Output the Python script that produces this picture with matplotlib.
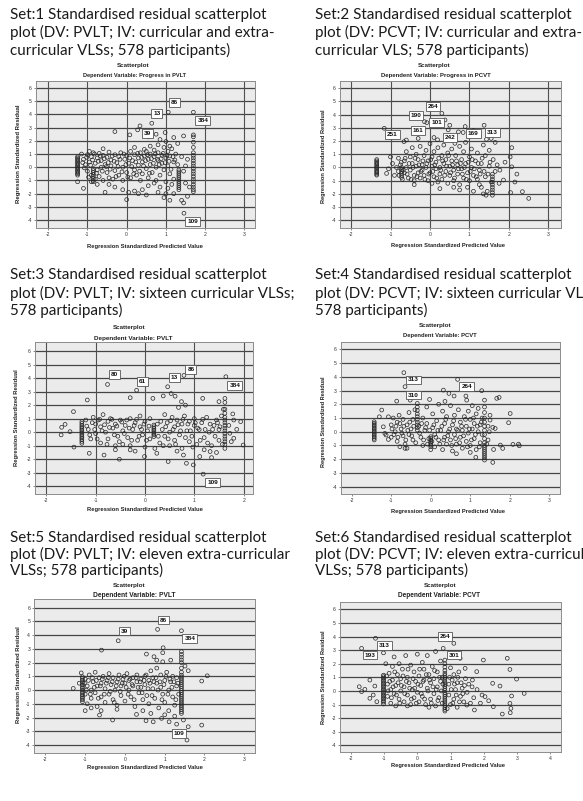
import matplotlib
matplotlib.use("Agg")
import matplotlib.pyplot as plt

# ---------------- data ----------------
set1_title = ["Set:1 Standardised residual scatterplot",
              "plot (DV: PVLT; IV: curricular and extra-",
              "curricular VLSs; 578 participants)"]
set2_title = ["Set:2 Standardised residual scatterplot",
              "plot (DV: PCVT; IV: curricular and extra-",
              "curricular VLS; 578 participants)"]
set3_title = ["Set:3 Standardised residual scatterplot",
              "plot (DV: PVLT; IV: sixteen curricular VLSs;",
              "578 participants)"]
set4_title = ["Set:4 Standardised residual scatterplot",
              "plot (DV: PCVT; IV: sixteen curricular VLSs;",
              "578 participants)"]
set5_title = ["Set:5 Standardised residual scatterplot",
              "plot (DV: PVLT; IV: eleven extra-curricular",
              "VLSs; 578 participants)"]
set6_title = ["Set:6 Standardised residual scatterplot",
              "plot (DV: PCVT; IV: eleven extra-curricular",
              "VLSs; 578 participants)"]

dv_labels = ["Dependent Variable: Progress in PVLT",
             "Dependent Variable: Progress in PCVT",
             "Dependent Variable: PVLT",
             "Dependent Variable: PCVT",
             "Dependent Variable: PVLT",
             "Dependent Variable: PCVT"]

y_ticks = [-4, -3, -2, -1, 0, 1, 2, 3, 4, 5, 6]
set1_xticks = [-2, -1, 0, 1, 2, 3]
set2_xticks = [-2, -1, 0, 1, 2, 3]
set3_xticks = [-2, -1, 0, 1, 2]
set4_xticks = [-2, -1, 0, 1, 2, 3]
set5_xticks = [-2, -1, 0, 1, 2, 3]
set6_xticks = [-2, -1, 0, 1, 2, 3, 4]

# ---- Set 1 ----
set1_cloud = [(-1.15,1.0),(-1.1,0.6),(-1.05,0.2),(-1.0,-0.3),(-1.0,0.95),(-0.95,1.2),(-0.95,0.4),(-0.9,-0.6),
    (-0.9,0.8),(-0.85,1.1),(-0.8,0.3),(-0.8,-0.9),(-0.75,0.7),(-0.75,-0.2),(-0.7,1.05),(-0.7,-0.7),(-0.65,0.5),
    (-0.65,0.0),(-0.6,-1.0),(-0.6,0.9),(-0.55,0.2),(-0.5,-0.4),(-0.5,0.75),(-0.45,1.15),(-0.45,-0.8),(-0.4,0.1),
    (-0.4,0.55),(-0.35,-0.9),(-0.3,0.95),(-0.3,-0.25),(-0.25,0.35),(-0.2,-0.6),(-0.2,0.8),(-0.15,1.1),(-0.1,0.0),
    (-0.1,-1.0),(-0.05,0.6),(0.0,-0.4),(0.0,0.9),(0.05,0.3),(0.1,-0.8),(0.1,1.2),(0.15,0.5),(0.2,-0.2),(0.2,0.95),
    (0.25,-0.6),(0.3,0.7),(0.3,0.15),(0.35,-1.0),(0.35,1.1),(0.4,0.4),(0.4,-0.5),(0.45,0.85),(0.5,-0.1),(0.5,1.2),
    (0.55,0.6),(0.55,-0.8),(0.6,0.2),(0.6,1.0),(0.65,-0.4),(0.7,0.8),(0.7,1.3),(0.75,0.0),(0.75,-1.0),(0.8,0.5),
    (0.8,1.1),(0.85,-0.6),(0.9,0.9),(0.9,0.3),(0.95,1.5),(0.95,-0.2),(1.0,0.7),(1.0,-1.1),(1.05,1.2),(1.05,0.1),
    (1.1,-0.5),(1.1,0.85),(1.15,1.4),(1.2,0.4),(1.2,-0.9),(1.25,1.0),(1.3,0.2),(1.4,0.8),(1.45,-0.3),(1.5,0.1),
    (1.55,0.6),(-1.1,-1.6),(-0.9,-1.1),(-0.75,-1.3),(-0.55,-1.9),(-0.45,-1.3),(-0.3,-1.5),(-0.1,-1.7),(0.0,-2.45),
    (0.05,-1.9),(0.2,-1.8),(0.3,-2.0),(0.4,-1.7),(0.5,-2.1),(0.55,-1.4),(0.7,-1.2),(0.8,-1.9),(0.85,-1.5),
    (0.95,-2.3),(1.0,-2.0),(1.05,-1.6),(1.1,-2.5),(1.15,-1.3),(1.2,-2.0),(1.4,-2.5),(1.45,-2.7),(1.55,-2.2),
    (1.6,-1.5),(1.5,-1.2),(-0.3,2.7),(0.08,2.45),(0.28,2.83),(0.34,3.13),(0.64,3.33),(0.55,2.3),(0.75,2.5),
    (0.85,2.1),(0.98,2.63),(1.0,1.95),(1.2,2.25),(1.45,2.37),(1.06,4.17),(1.7,4.17),(1.46,-3.48),(0.6,1.6),
    (0.8,1.7),(1.1,1.6),(1.3,1.8),(-0.6,1.4),(0.2,1.5),(0.45,1.35)]
set1_band = [(-1.12,0.35),(-1.08,-0.05),(-1.02,0.75),(-0.97,-0.75),(-0.92,0.15),(-0.87,0.55),(-0.82,1.0),
    (-0.77,-0.45),(-0.72,0.45),(-0.67,0.85),(-0.62,-0.3),(-0.57,0.65),(-0.52,0.05),(-0.47,0.35),(-0.42,-0.15),
    (-0.37,0.85),(-0.32,0.45),(-0.27,-0.7),(-0.22,0.05),(-0.17,0.6),(-0.12,-0.35),(-0.07,1.0),(-0.02,0.2),
    (0.03,-0.75),(0.08,0.7),(0.13,0.05),(0.18,-0.5),(0.23,0.4),(0.28,1.05),(0.33,-0.3),(0.38,0.75),(0.43,0.1),
    (0.48,0.5),(0.53,0.95),(0.58,-0.45),(0.63,0.65),(0.68,0.3),(0.73,1.0),(0.78,0.6),(0.83,0.2),(0.88,0.65),
    (0.93,1.05),(0.98,0.35),(1.03,0.9),(1.08,0.45),(1.13,-0.15),(1.18,0.8),(1.23,0.55)]
set1_stack_x = [-1.25, -0.85, 1.33, 1.7]
set1_stack_y = [[0.8,0.7,0.6,0.5,0.4,0.3,0.2,0.1,0.0,-0.1,-0.2,-0.3,-0.4,-0.5,-0.6,-1.1],
                [-0.1,-0.25,-0.4,-0.55,-0.7,-0.85,-1.0,-1.1],
                [-0.2,-0.35,-0.5,-0.65,-0.8,-0.95,-1.1,-1.25,-1.4,-1.55,-1.7],
                [2.45,2.3,1.9,1.5,1.1,0.9,0.7,0.5,0.3,0.1,-0.1,-0.3,-0.5,-0.7,-0.9,-1.1,-1.3,-1.5,-1.7,-1.85]]
set1_case_ids = ["86", "13", "384", "39", "109"]
set1_case_pos = [(1.22,4.92),(0.77,4.1),(1.94,3.54),(0.53,2.58),(1.68,-4.12)]

# ---- Set 2 ----
set2_cloud = [(-0.8,0.7),(-0.8,-0.3),(-0.75,0.2),(-0.7,-0.9),(-0.65,0.5),(-0.65,-0.4),(-0.6,1.2),(-0.6,0.0),
    (-0.55,-0.8),(-0.5,0.8),(-0.5,-0.2),(-0.45,1.5),(-0.45,0.3),(-0.4,-0.6),(-0.4,-1.0),(-0.35,1.0),(-0.35,0.1),
    (-0.3,-0.4),(-0.3,0.6),(-0.25,1.6),(-0.25,-0.8),(-0.2,0.2),(-0.2,-0.2),(-0.15,0.9),(-0.15,-0.6),(-0.1,1.3),
    (-0.1,0.0),(-0.05,-1.0),(-0.05,0.5),(0.0,1.8),(0.0,-0.4),(0.05,0.8),(0.05,0.1),(0.1,-0.7),(0.1,1.2),(0.15,-0.1),
    (0.15,0.4),(0.2,-1.1),(0.2,1.5),(0.25,0.0),(0.25,-0.5),(0.3,0.9),(0.3,-0.9),(0.35,0.3),(0.35,1.7),(0.4,-0.3),
    (0.4,0.6),(0.45,-1.2),(0.45,1.1),(0.5,0.1),(0.5,-0.6),(0.55,1.4),(0.55,0.5),(0.6,-0.2),(0.6,-1.0),(0.65,0.9),
    (0.7,0.2),(0.7,-0.5),(0.75,1.6),(0.75,-1.3),(0.8,0.6),(0.8,-0.1),(0.85,1.2),(0.85,-0.8),(0.9,0.3),(0.9,1.9),
    (0.95,-0.4),(1.0,0.8),(1.0,-1.0),(1.05,0.0),(1.05,1.4),(1.1,-0.6),(1.15,0.5),(1.2,-0.9),(1.2,1.1),(1.25,-0.2),
    (1.3,0.3),(1.3,-1.5),(1.35,1.7),(1.4,-0.7),(1.4,0.9),(1.45,-1.8),(1.5,0.1),(1.5,1.3),(1.55,-1.1),(1.6,0.6),
    (1.65,1.9),(1.65,-0.3),(1.7,0.2),(1.75,-1.2),(-1.05,-0.1),(-1.1,-0.45),(-0.95,0.3),(-0.9,-0.6),(-0.85,0.0),
    (-1.0,0.8),(-0.4,-1.3),(0.05,-1.2),(0.25,-1.6),(0.6,-1.5),(0.75,-1.7),(0.95,-1.5),(1.1,-1.8),(1.25,-1.3),
    (1.35,-2.0),(1.42,-2.1),(2.07,1.5),(2.03,0.8),(2.07,0.05),(2.2,-0.5),(2.15,-1.1),(2.04,-1.9),(2.34,-1.83),
    (2.5,-2.34),(1.86,-0.95),(1.77,-0.2),(1.9,0.4),(-1.16,2.97),(-0.6,2.08),(-0.66,1.96),(-0.14,3.47),(-0.08,3.4),
    (0.3,4.1),(0.38,3.6),(0.5,3.2),(0.46,2.85),(0.72,2.7),(0.84,2.65),(0.89,3.1),(1.1,2.8),(1.37,3.2),(1.43,2.13),
    (0.1,2.27),(0.19,2.1),(0.63,1.83),(-0.3,2.2),(1.55,2.2),(1.25,2.4)]
set2_band = [(-0.78,-0.6),(-0.73,0.4),(-0.68,-0.2),(-0.63,0.7),(-0.58,-0.5),(-0.53,0.3),(-0.48,-0.9),
    (-0.43,0.0),(-0.38,0.7),(-0.33,-0.7),(-0.28,0.2),(-0.23,-0.3),(-0.18,0.5),(-0.13,-0.9),(-0.08,0.3),
    (-0.03,-0.5),(0.02,0.6),(0.07,-0.3),(0.12,0.2),(0.17,-0.8),(0.22,0.7),(0.27,-0.2),(0.32,0.5),(0.37,-0.6),
    (0.42,0.1),(0.47,0.9),(0.52,-0.4),(0.57,0.2),(0.62,-0.8),(0.67,0.5),(0.72,-0.1),(0.77,0.3),(0.82,-0.5),
    (0.87,0.0),(0.92,-0.9),(0.97,0.4),(1.02,-0.3),(1.07,0.6),(1.12,-0.1),(1.17,-0.7),(1.22,0.3),(1.27,-0.5),
    (1.32,0.7),(1.37,-0.3),(1.47,-0.5),(1.52,0.4)]
set2_stack_x = [-1.35, -0.72, 1.58]
set2_stack_y = [[0.6,0.5,0.4,0.3,0.2,0.1,0.0,-0.1,-0.2,-0.3,-0.4,-0.5,-0.58],
                [0.0,-0.15,-0.3,-0.45,-0.6,-0.75],
                [-0.5,-0.7,-0.9,-1.1,-1.3,-1.5,-1.7,-1.9,-2.1]]
set2_case_ids = ["264", "190", "101", "161", "251", "242", "169", "313"]
set2_case_pos = [(0.08,4.6),(-0.36,3.95),(0.17,3.4),(-0.3,2.78),(-0.95,2.47),(0.5,2.28),(1.1,2.6),(1.58,2.66)]

# ---- Set 3 ----
set3_cloud = [(-1.2,0.9),(-1.15,0.2),(-1.1,-0.5),(-1.05,1.1),(-1.0,0.6),(-1.0,-0.1),(-0.95,0.9),(-0.9,-0.8),
    (-0.9,0.4),(-0.85,1.3),(-0.8,0.0),(-0.75,-0.5),(-0.75,0.8),(-0.7,1.0),(-0.65,0.3),(-0.6,-1.0),(-0.6,0.6),
    (-0.55,-0.3),(-0.5,0.9),(-0.45,0.1),(-0.45,-0.9),(-0.4,0.5),(-0.35,-0.4),(-0.3,1.0),(-0.3,-1.0),(-0.25,0.2),
    (-0.2,0.7),(-0.15,-0.6),(-0.1,0.4),(-0.1,1.2),(-0.05,-0.2),(0.0,0.8),(0.0,-1.1),(0.05,0.1),(0.1,-0.5),(0.1,1.0),
    (0.25,0.6),(0.3,-0.8),(0.35,0.2),(0.4,1.3),(0.4,-0.3),(0.45,0.7),(0.5,-1.0),(0.5,0.0),(0.55,1.1),(0.6,-0.6),
    (0.6,0.4),(0.65,0.9),(0.7,-0.2),(0.75,-1.2),(0.75,0.6),(0.8,1.2),(0.85,0.1),(0.9,-0.7),(0.9,0.8),(0.95,-0.3),
    (1.0,0.5),(1.0,1.0),(1.05,-0.9),(1.1,0.2),(1.15,0.7),(1.2,-0.4),(1.25,1.1),(1.3,0.0),(1.35,-1.0),(1.4,0.5),
    (1.45,0.9),(1.5,-0.6),(1.5,0.2),(1.55,1.2),(1.7,0.5),(1.75,-0.7),(1.8,0.9),(-0.2,-1.4),(0.2,-1.2),(0.65,-1.4),
    (1.2,-1.3),(1.45,-1.5),(-0.6,-1.3),(-1.69,0.36),(-1.7,-0.2),(-1.62,0.58),(-1.52,0.04),(-1.45,1.52),
    (-1.44,-1.1),(-1.17,2.38),(-1.13,-1.56),(-0.76,3.53),(-0.17,3.1),(-0.3,2.55),(0.16,2.5),(0.46,3.36),
    (0.53,2.86),(0.61,2.66),(0.79,4.2),(1.64,4.1),(1.17,2.5),(0.37,2.68),(0.74,2.26),(0.82,2.0),(0.68,1.83),
    (1.5,2.26),(1.59,1.69),(1.78,1.35),(1.99,-0.95),(1.72,-0.08),(1.8,-0.45),(1.86,0.21),(1.94,0.78),
    (1.18,-3.1),(-0.83,-1.69),(-0.52,-2.0),(-0.01,-1.8),(0.47,-2.17),(0.84,-2.3),(0.98,-2.42),(1.35,-1.88),
    (1.32,-1.43),(1.11,-1.8),(0.78,-1.69),(0.24,-1.56),(-0.3,-1.31)]
set3_band = [(-1.18,0.45),(-1.12,-0.2),(-1.07,0.7),(-1.02,0.2),(-0.97,-0.5),(-0.92,0.95),(-0.87,0.1),
    (-0.82,0.55),(-0.77,-0.9),(-0.72,0.35),(-0.67,0.95),(-0.62,-0.2),(-0.57,0.45),(-0.52,-0.7),(-0.47,0.75),
    (-0.42,-0.1),(-0.37,0.9),(-0.32,0.3),(-0.27,-0.6),(-0.22,0.5),(-0.17,0.95),(-0.12,-0.3),(-0.07,0.2),
    (-0.02,0.6),(0.03,-0.6),(0.08,0.45),(0.27,-0.3),(0.32,0.8),(0.37,-1.0),(0.42,0.4),(0.47,-0.5),(0.52,0.85),
    (0.57,0.2),(0.62,-0.9),(0.67,0.55),(0.72,0.1),(0.77,0.95),(0.82,-0.4),(0.87,0.6),(0.92,0.1),(0.97,-1.1),
    (1.02,0.7),(1.07,0.3),(1.12,-0.6),(1.17,0.95),(1.22,0.2),(1.27,-0.8),(1.32,0.6),(1.37,0.2),(1.42,-0.3),
    (1.47,0.7),(1.52,0.4),(1.57,-0.9)]
set3_stack_x = [-1.28, 0.18, 1.62]
set3_stack_y = [[0.78,0.65,0.52,0.4,0.28,0.16,0.04,-0.08,-0.2,-0.32,-0.44,-0.56,-0.68,-0.82],
                [0.53,0.4,0.28,0.16,0.04,-0.08,-0.2,-0.33],
                [2.5,2.2,1.7,1.4,1.1,0.9,0.7,0.5,0.3,0.1,-0.1,-0.3,-0.5,-0.7,-0.9,-1.2]]
set3_case_ids = ["80", "61", "13", "86", "384", "109"]
set3_case_pos = [(-0.62,4.27),(-0.05,3.77),(0.59,4.03),(0.93,4.66),(1.82,3.48),(1.37,-3.69)]

# ---- Set 4 ----
set4_cloud = [(-1.0,0.5),(-1.0,-0.4),(-0.95,1.0),(-0.9,0.0),(-0.85,-0.7),(-0.85,0.7),(-0.8,1.2),(-0.75,0.2),
    (-0.7,-0.3),(-0.7,0.9),(-0.65,-0.9),(-0.6,0.5),(-0.55,1.4),(-0.55,-0.2),(-0.5,0.2),(-0.45,-0.6),(-0.45,0.9),
    (-0.4,1.6),(-0.3,0.4),(-0.25,-0.4),(-0.2,1.0),(-0.2,-1.0),(-0.15,0.1),(-0.1,1.8),(-0.1,0.6),(-0.05,-0.5),
    (0.05,0.3),(0.05,1.3),(0.1,-0.2),(0.1,-1.1),(0.15,0.8),(0.2,2.0),(0.2,-0.6),(0.25,0.1),(0.3,1.5),(0.3,-1.3),
    (0.35,-0.4),(0.35,0.6),(0.4,1.1),(0.4,-0.9),(0.45,0.0),(0.5,1.9),(0.5,-0.6),(0.55,0.5),(0.55,-1.4),(0.6,1.2),
    (0.6,-0.2),(0.65,0.2),(0.65,-0.9),(0.7,1.6),(0.75,0.7),(0.75,-0.4),(0.8,-1.2),(0.8,0.1),(0.85,1.1),(0.9,-0.7),
    (0.9,0.4),(0.95,1.5),(0.95,-0.1),(1.0,0.9),(1.0,-1.0),(1.05,0.2),(1.05,1.9),(1.1,-0.5),(1.1,0.6),(1.15,1.3),
    (1.15,-1.3),(1.2,0.0),(1.2,1.7),(1.25,-0.8),(1.25,0.5),(1.3,1.0),(1.3,-0.2),(1.45,0.4),(1.45,-0.6),(1.5,1.2),
    (-0.6,-1.2),(0.0,-1.3),(0.65,-1.6),(1.0,-1.5),(-0.68,4.3),(-0.65,3.28),(-0.52,2.3),(-0.86,2.23),(0.68,3.81),
    (0.32,3.03),(0.46,2.79),(0.59,2.6),(0.89,2.6),(1.29,2.99),(0.91,2.3),(1.67,2.43),(1.73,2.5),(-0.03,2.35),
    (0.36,2.21),(2.01,1.33),(1.97,0.66),(2.08,-0.92),(2.22,-0.9),(2.24,-1.02),(1.82,-1.21),(1.76,-0.97),
    (1.59,-1.29),(1.57,-2.23),(1.14,-1.86),(1.5,0.85),(1.57,0.32),(1.63,0.24),(-1.24,1.58),(-1.3,1.09),
    (-1.07,1.09),(-1.2,0.36),(-1.16,-0.12),(-1.07,-0.56),(-1.13,-0.24),(-0.78,-1.09),(-0.65,-1.21)]
set4_band = [(-0.98,0.2),(-0.93,-0.2),(-0.88,0.4),(-0.83,-0.4),(-0.78,0.6),(-0.73,-0.1),(-0.68,0.4),
    (-0.63,-0.6),(-0.58,0.1),(-0.53,0.7),(-0.48,-0.3),(-0.43,0.4),(-0.38,-0.8),(-0.28,-0.1),(-0.23,0.6),
    (-0.18,-0.6),(-0.13,0.3),(-0.08,-0.9),(-0.03,0.1),(0.03,-0.7),(0.08,0.5),(0.13,-0.4),(0.18,0.1),(0.23,-0.9),
    (0.28,0.4),(0.33,-0.6),(0.38,0.9),(0.43,-0.3),(0.48,0.2),(0.53,-1.0),(0.58,0.8),(0.63,-0.5),(0.68,0.1),
    (0.73,-0.8),(0.78,0.4),(0.83,-0.3),(0.88,0.9),(0.93,-1.1),(0.98,0.2),(1.03,-0.6),(1.08,1.0),(1.13,-0.2),
    (1.18,0.4),(1.23,-1.1),(1.28,0.7),(1.42,-0.9),(1.48,0.0)]
set4_stack_x = [-1.43, -0.34, 0.0, 1.36]
set4_stack_y = [[0.73,0.62,0.51,0.4,0.29,0.18,0.07,-0.04,-0.15,-0.26,-0.37,-0.48,-0.6],
                [2.06,1.8,1.55,1.3,1.1,0.9,0.7,0.5,0.3,0.12],
                [-0.36,-0.48,-0.6,-0.72,-0.84,-0.96,-1.09],
                [2.3,1.8,1.4,1.0,0.7,0.4,0.1,-0.2,-0.5,-0.8,-1.0,-1.15,-1.3,-1.45,-1.6,-1.75,-1.9,-2.06]]
set4_case_ids = ["313", "310", "264"]
set4_case_pos = [(-0.44,3.77),(-0.44,2.67),(0.91,3.28)]

# ---- Set 5 ----
set5_cloud = [(-1.0,0.8),(-1.0,-0.3),(-0.95,0.3),(-0.95,-1.0),(-0.9,1.1),(-0.85,0.0),(-0.85,-0.6),(-0.8,0.6),
    (-0.75,1.3),(-0.75,-0.2),(-0.7,0.3),(-0.7,-1.2),(-0.65,0.9),(-0.6,-0.5),(-0.6,0.5),(-0.55,1.0),(-0.5,0.1),
    (-0.5,-0.9),(-0.45,0.7),(-0.4,-0.3),(-0.4,1.2),(-0.35,0.4),(-0.3,-0.7),(-0.3,0.9),(-0.25,0.0),(-0.2,0.6),
    (-0.2,-1.1),(-0.15,1.1),(-0.1,0.3),(-0.1,-0.4),(-0.05,0.8),(0.0,-0.8),(0.0,0.5),(0.05,1.2),(0.1,0.0),(0.1,0.7),
    (0.15,-0.5),(0.2,0.9),(0.2,0.3),(0.25,-1.2),(0.3,0.6),(0.3,1.1),(0.35,-0.2),(0.4,0.8),(0.4,0.2),(0.45,-0.7),
    (0.5,1.0),(0.5,0.4),(0.55,-0.4),(0.6,0.7),(0.6,-1.0),(0.65,1.4),(0.7,0.1),(0.7,0.9),(0.75,-0.6),(0.8,0.5),
    (0.8,1.6),(0.85,-1.3),(0.9,0.2),(0.9,1.1),(0.95,-0.3),(1.0,0.7),(1.0,-0.9),(1.05,1.3),(1.1,0.0),(1.1,-1.5),
    (1.15,0.6),(1.2,-0.5),(1.2,1.0),(1.25,-1.1),(1.3,0.3),(1.3,0.9),(1.35,-0.3),(-0.6,-1.5),(-0.2,-1.4),
    (0.45,-1.5),(0.65,-1.7),(1.0,-1.8),(1.25,-1.9),(-0.85,-1.3),(-1.3,0.12),(-0.59,2.91),(-0.17,3.59),
    (0.82,4.42),(1.42,4.32),(0.96,3.08),(0.95,2.72),(0.54,2.62),(0.73,2.43),(0.8,2.18),(0.95,2.06),(1.15,2.18),
    (1.51,1.75),(1.59,1.41),(1.93,0.66),(2.07,1.04),(1.93,-2.55),(1.56,-3.64),(1.59,-2.67),(1.3,-2.48),
    (1.11,-2.31),(0.92,-2.06),(0.71,-2.31),(0.53,-2.23),(-0.31,-2.18),(-0.64,-1.82),(-1.0,-1.5),(0.29,-1.77),
    (1.47,-2.18),(-1.1,1.25),(-1.15,0.5)]
set5_band = [(-1.02,0.5),(-0.97,0.0),(-0.92,0.7),(-0.87,-0.3),(-0.82,0.9),(-0.77,0.2),(-0.72,0.7),
    (-0.67,-0.6),(-0.62,0.3),(-0.57,0.8),(-0.52,-0.3),(-0.47,0.5),(-0.42,0.9),(-0.37,-0.1),(-0.32,0.6),
    (-0.27,-0.9),(-0.22,0.3),(-0.17,0.8),(-0.12,-0.1),(-0.07,0.5),(-0.02,1.0),(0.03,0.2),(0.08,-0.3),(0.13,0.8),
    (0.18,0.4),(0.23,-0.7),(0.28,0.9),(0.33,0.2),(0.38,0.6),(0.43,-0.2),(0.48,0.7),(0.53,1.1),(0.58,0.1),
    (0.63,0.5),(0.68,-0.4),(0.73,0.6),(0.78,0.9),(0.83,0.0),(0.88,0.6),(0.93,-0.7),(0.98,0.4),(1.03,1.0),
    (1.08,-0.3),(1.13,0.8),(1.18,0.2),(1.23,0.6),(1.28,-0.7),(1.33,0.5)]
set5_stack_x = [-1.07, 1.42]
set5_stack_y = [[0.97,0.85,0.73,0.61,0.49,0.37,0.25,0.13,0.01,-0.11,-0.23,-0.35,-0.47,-0.59,-0.71,-0.85],
                [2.8,2.6,2.4,2.2,2.0,1.6,1.3,1.09,0.95,0.81,0.67,0.53,0.39,0.25,0.11,-0.03,-0.17,-0.31,
                 -0.45,-0.59,-0.73,-0.87,-1.01,-1.15,-1.29,-1.43,-1.57,-1.7]]
set5_case_ids = ["39", "86", "384", "109"]
set5_case_pos = [(-0.02,4.3),(0.96,5.1),(1.63,3.76),(1.36,-3.16)]

# ---- Set 6 ----
set6_cloud = [(-0.95,2.0),(-0.9,0.5),(-0.9,-0.4),(-0.85,1.3),(-0.8,-0.9),(-0.8,0.1),(-0.75,1.8),(-0.75,0.8),
    (-0.7,-0.2),(-0.7,2.5),(-0.65,-1.1),(-0.65,0.4),(-0.6,1.2),(-0.55,-0.6),(-0.55,2.0),(-0.5,0.0),(-0.5,0.9),
    (-0.45,1.6),(-0.4,-0.8),(-0.4,0.3),(-0.35,2.6),(-0.3,1.0),(-0.3,-0.3),(-0.25,0.6),(-0.2,-1.0),(-0.2,1.9),
    (-0.15,0.1),(-0.1,1.4),(-0.1,-0.5),(-0.05,0.7),(0.0,2.7),(0.0,-0.1),(0.05,1.1),(0.05,-0.8),(0.1,0.4),
    (0.15,2.1),(0.15,-0.4),(0.2,1.6),(0.2,0.8),(0.25,-1.0),(0.3,0.2),(0.3,2.6),(0.35,1.2),(0.4,-0.6),(0.4,0.6),
    (0.45,1.8),(0.5,-0.2),(0.5,0.9),(0.55,2.9),(0.55,-1.1),(0.6,0.3),(0.6,1.4),(0.65,-0.5),(0.7,2.2),(0.7,0.7),
    (0.75,-0.9),(0.75,1.0),(0.95,0.5),(0.95,-0.3),(1.0,1.7),(1.0,-1.0),(1.05,0.8),(1.1,-0.6),(1.1,1.2),(1.15,0.1),
    (1.2,-1.2),(1.2,0.6),(1.25,1.4),(1.3,-0.4),(1.35,0.2),(1.4,-0.8),(1.45,0.9),(1.5,-0.1),(1.55,0.5),(1.6,-0.9),
    (1.65,0.3),(1.7,-0.5),(1.8,0.1),(1.9,-0.9),(1.95,-0.3),(-0.3,-1.1),(0.35,-1.2),(0.9,-1.3),(-1.68,3.13),
    (-1.26,3.87),(-1.02,2.8),(0.78,3.13),(1.1,3.5),(1.29,2.4),(1.99,2.27),(2.71,2.4),(2.79,1.58),(2.99,0.87),
    (3.22,-0.18),(2.84,-0.37),(2.79,-0.91),(2.82,-1.28),(2.8,-1.6),(2.56,-1.7),(2.49,0.36),(2.27,0.56),
    (2.04,-0.42),(2.15,-0.72),(2.29,-1.16),(1.72,-1.4),(1.49,-1.04),(1.44,1.66),(1.79,1.42),(1.66,0.8),
    (-1.75,0.31),(-1.68,-0.05),(-1.58,0.12),(-1.43,-0.54),(-1.33,-0.3),(-1.43,0.8),(-1.28,0.36),(-1.22,-0.79)]
set6_band = [(-0.93,1.1),(-0.88,0.0),(-0.83,0.7),(-0.78,-0.5),(-0.73,0.3),(-0.68,1.4),(-0.63,-0.3),
    (-0.58,0.6),(-0.53,-0.9),(-0.48,0.4),(-0.43,1.1),(-0.38,-0.2),(-0.33,0.7),(-0.28,1.6),(-0.23,0.2),
    (-0.18,-0.6),(-0.13,0.9),(-0.08,0.2),(-0.03,-0.9),(0.02,0.5),(0.07,1.6),(0.12,-0.2),(0.17,0.7),(0.22,-0.6),
    (0.27,1.2),(0.32,0.0),(0.37,0.8),(0.42,-0.9),(0.47,0.3),(0.52,1.5),(0.57,0.1),(0.62,-0.7),(0.67,1.0),
    (0.72,0.0),(0.77,0.5),(0.97,1.0),(1.02,0.1),(1.07,-0.9),(1.12,0.5),(1.17,-0.3),(1.22,1.0),(1.27,-0.8),
    (1.32,0.6),(1.37,-0.2),(1.42,0.4)]
set6_stack_x = [-1.02, 0.83]
set6_stack_y = [[1.16,1.05,0.94,0.83,0.72,0.61,0.5,0.39,0.28,0.17,0.06,-0.05,-0.16,-0.27,-0.38,-0.49,
                 -0.6,-0.71,-0.82,-0.96],
                [2.27,2.0,1.75,1.5,1.29,1.15,1.01,0.87,0.73,0.59,0.45,0.31,0.17,0.03,-0.11,-0.25,-0.39,
                 -0.53,-0.67,-0.81,-0.95,-1.09,-1.23,-1.36,-1.48]]
set6_case_ids = ["193", "313", "264", "301"]
set6_case_pos = [(-1.43,2.64),(-0.99,3.37),(0.83,3.99),(1.1,2.64)]

# ---------------- layout (pixels of the 583x801 canvas) ----------------
W, H = 583, 801
fig = plt.figure(figsize=(W / 100, H / 100), dpi=100)
fig.patch.set_facecolor("white")
renderer = fig.canvas.get_renderer()

def fx(px):
    return px / W

def fy(py):
    return 1 - py / H

def fit(t, target, along="w"):
    bb = t.get_window_extent(renderer)
    cur = bb.width if along == "w" else bb.height
    t.set_fontsize(t.get_fontsize() * target / cur)

HEAD_FONT = ["Lato", "DejaVu Sans"]
CHART_FONT = ["Liberation Sans", "DejaVu Sans"]

# header font size fitted to the reference width of the first line
probe = fig.text(0, 0, set1_title[0], fontsize=10, family=HEAD_FONT)
fit(probe, 257)
head_size = probe.get_fontsize()
probe.remove()

headers = [(set1_title, 10, [15, 32.5, 50]), (set2_title, 315, [15, 32.5, 50]),
           (set3_title, 10, [275.5, 293, 310]), (set4_title, 315, [275.5, 293, 310]),
           (set5_title, 10, [538, 554, 570]), (set6_title, 315, [538, 554, 570])]
for lines, x0, ys in headers:
    for line, yy in zip(lines, ys):
        fig.text(fx(x0), fy(yy), line, fontsize=head_size, family=HEAD_FONT,
                 ha="left", va="center", color="#1a1a1a")

# per panel: plot box (L, R, T, B), limits, text placements
panels = [
    dict(box=(36, 255, 81, 228), xlim=(-2.31, 3.27), ylim=(-4.6, 6.53), xt=set1_xticks, vgrid=True,
         cloud=set1_cloud + set1_band, sx=set1_stack_x, sy=set1_stack_y, ids=set1_case_ids, pos=set1_case_pos,
         st=(133.5, 65), sub=(134.5, 75.7, 103), xl=(145, 246.5, 116), yl=(19, 154, 98)),
    dict(box=(340, 560.7, 81, 227.7), xlim=(-2.28, 3.31), ylim=(-4.56, 6.55), xt=set2_xticks, vgrid=True,
         cloud=set2_cloud + set2_band, sx=set2_stack_x, sy=set2_stack_y, ids=set2_case_ids, pos=set2_case_pos,
         st=(433.7, 65.7), sub=(435.7, 75.7, 110), xl=(448.3, 245.7, 113), yl=(323, 156, 93)),
    dict(box=(35, 253, 341.7, 494), xlim=(-2.23, 2.19), ylim=(-4.57, 6.69), xt=set3_xticks, vgrid=True,
         cloud=set3_cloud + set3_band, sx=set3_stack_x, sy=set3_stack_y, ids=set3_case_ids, pos=set3_case_pos,
         st=(128.7, 327), sub=(133, 339, 79), xl=(145, 509, 117), yl=(17, 418, 97)),
    dict(box=(341, 560, 342.3, 494), xlim=(-2.27, 3.27), ylim=(-4.53, 6.51), xt=set4_xticks, vgrid=False,
         cloud=set4_cloud + set4_band, sx=set4_stack_x, sy=set4_stack_y, ids=set4_case_ids, pos=set4_case_pos,
         st=(435, 326), sub=(439.7, 335, 74), xl=(448, 512, 113), yl=(323, 422, 90)),
    dict(box=(34.3, 255, 599.3, 752.7), xlim=(-2.28, 3.27), ylim=(-4.56, 6.61), xt=set5_xticks, vgrid=False,
         cloud=set5_cloud + set5_band, sx=set5_stack_x, sy=set5_stack_y, ids=set5_case_ids, pos=set5_case_pos,
         st=(129, 586), sub=(134, 595.7, 82), xl=(145, 767.7, 117), yl=(19, 675, 96)),
    dict(box=(340, 560.7, 601.7, 752.3), xlim=(-2.33, 4.32), ylim=(-4.51, 6.56), xt=set6_xticks, vgrid=False,
         cloud=set6_cloud + set6_band, sx=set6_stack_x, sy=set6_stack_y, ids=set6_case_ids, pos=set6_case_pos,
         st=(440, 585.7), sub=(439, 595.7, 82), xl=(448, 765, 113), yl=(323, 677, 93)),
]

for p, dv in zip(panels, dv_labels):
    L, R, T, B = p["box"]
    ax = fig.add_axes([fx(L), fy(B), (R - L) / W, (B - T) / H])
    ax.set_facecolor("#ebebeb")
    ax.set_xlim(*p["xlim"])
    ax.set_ylim(*p["ylim"])
    for yv in y_ticks:
        ax.axhline(yv, color="#454545", lw=0.9, zorder=1)
    if p["vgrid"]:
        for xv in p["xt"]:
            ax.axvline(xv, color="#505050", lw=0.8, zorder=1)
    xs = [c[0] for c in p["cloud"]]
    ys = [c[1] for c in p["cloud"]]
    for sxv, syl in zip(p["sx"], p["sy"]):
        xs += [sxv] * len(syl)
        ys += list(syl)
    ax.scatter(xs, ys, s=7.5, facecolors="none", edgecolors="#262626", linewidths=0.5, zorder=3)
    for cid, (cx, cy) in zip(p["ids"], p["pos"]):
        ax.text(cx, cy, cid, fontsize=4.6, family=CHART_FONT, fontweight="bold", ha="center", va="center",
                color="#111111", zorder=5,
                bbox=dict(boxstyle="square,pad=0.3", fc="white", ec="#555555", lw=0.6))
    ax.set_xticks(p["xt"])
    ax.set_yticks(y_ticks)
    ax.set_xticklabels([str(v) for v in p["xt"]], family=CHART_FONT)
    ax.set_yticklabels([str(v) for v in y_ticks], family=CHART_FONT)
    ax.tick_params(labelsize=3.6, length=1.5, width=0.4, pad=1.5, colors="#333333")
    for s in ax.spines.values():
        s.set_color("#8c8c8c")
        s.set_linewidth(0.7)

    fig.text(fx(p["st"][0]), fy(p["st"][1]), "Scatterplot", fontsize=4.5, family=CHART_FONT,
             fontweight="bold", ha="center", va="center", color="#222222")
    t = fig.text(fx(p["sub"][0]), fy(p["sub"][1]), dv, fontsize=4.5, family=CHART_FONT,
                 fontweight="bold", ha="center", va="center", color="#222222")
    fit(t, p["sub"][2])
    t = fig.text(fx(p["xl"][0]), fy(p["xl"][1]), "Regression Standardized Predicted Value", fontsize=4.5,
                 family=CHART_FONT, fontweight="bold", ha="center", va="center", color="#222222")
    fit(t, p["xl"][2])
    t = fig.text(fx(p["yl"][0]), fy(p["yl"][1]), "Regression Standardized Residual", fontsize=4.5,
                 family=CHART_FONT, fontweight="bold", ha="center", va="center", rotation=90,
                 color="#222222")
    fit(t, p["yl"][2], along="h")

fig.savefig("out.png", dpi=100, facecolor="white")
